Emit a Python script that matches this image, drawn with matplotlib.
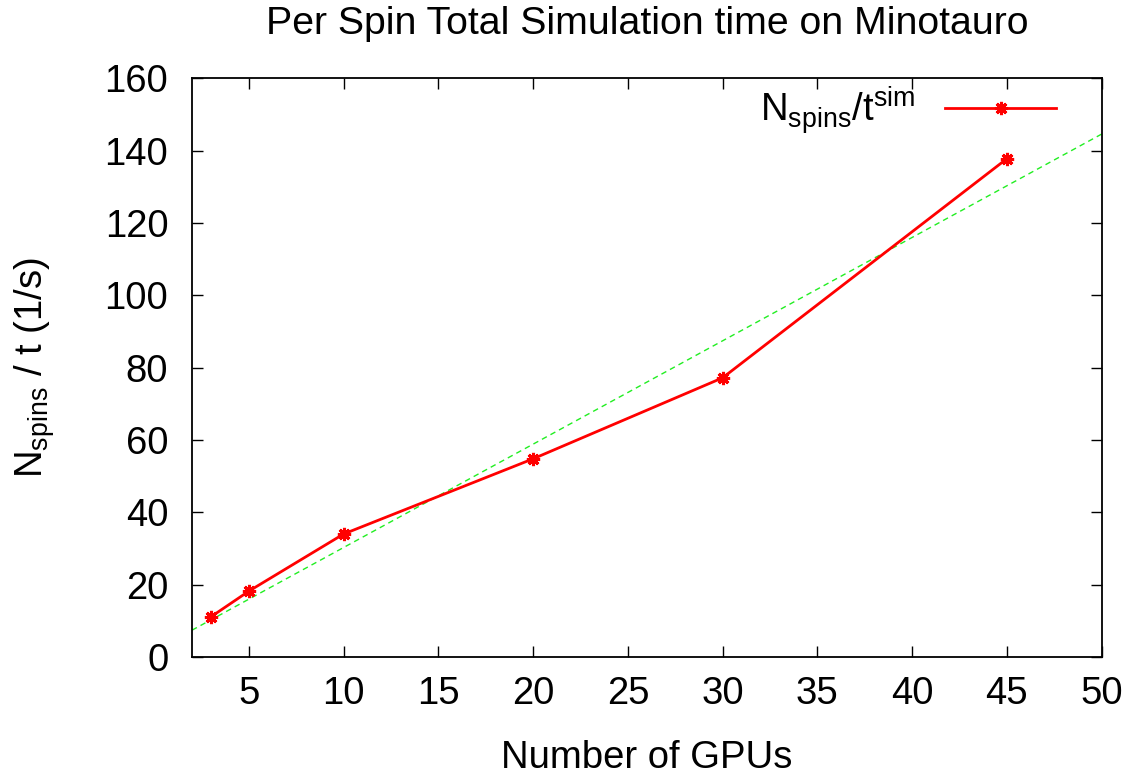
import numpy as np
import matplotlib
matplotlib.use("Agg")
import matplotlib.pyplot as plt

plt.rcParams['font.family'] = ['Liberation Sans', 'DejaVu Sans']
plt.rcParams['mathtext.fontset'] = 'custom'
plt.rcParams['mathtext.rm'] = 'Liberation Sans'
plt.rcParams['mathtext.it'] = 'Liberation Sans'

# Number of GPUs and per-spin simulation rate
gpus = [3, 5, 10, 20, 30, 45]
rate = [11.1, 18.2, 34.0, 54.8, 77.2, 137.8]

x_ticks = [5, 10, 15, 20, 25, 30, 35, 40, 45, 50]
y_ticks = [0, 20, 40, 60, 80, 100, 120, 140, 160]

FS = 27.5

fig = plt.figure(figsize=(11.36, 7.76), dpi=100)
ax = fig.add_axes([0.169, 0.1534, 0.8008, 0.7456])

# Linear fit through the measurements
slope, intercept = np.polyfit(gpus, rate, 1)
fx = np.array([2.0, 50.0])
ax.plot(fx, slope * fx + intercept, color='#22ee22', lw=1.0,
        dashes=(4, 3), zorder=2)

ax.plot(gpus, rate, color='#ff0000', lw=2.0, marker=(8, 2, 0),
        markersize=9.5, markeredgewidth=2.2, markeredgecolor='#ff0000',
        label=r'$\mathrm{N_{spins}/t^{sim}}$', zorder=3)

ax.set_xlim(2, 50)
ax.set_ylim(0, 160)
ax.set_xticks(x_ticks)
ax.set_yticks(y_ticks)
ax.tick_params(direction='in', length=8, width=1.0, labelsize=FS,
               top=True, right=True)
ax.tick_params(axis='x', pad=14)
ax.tick_params(axis='y', pad=17)
for s in ax.spines.values():
    s.set_linewidth(1.3)

ax.set_title('Per Spin Total Simulation time on Minotauro', fontsize=28.3, pad=32)
ax.set_xlabel('Number of GPUs', fontsize=FS, labelpad=20)
ax.set_ylabel(r'$\mathrm{N_{spins}}$ / t (1/s)', fontsize=FS, labelpad=34)

ax.legend(loc='upper right', frameon=False, markerfirst=False, fontsize=FS,
          handlelength=2.9, borderaxespad=0.2, bbox_to_anchor=(0.975, 1.03))

fig.savefig('out.png', dpi=100)
